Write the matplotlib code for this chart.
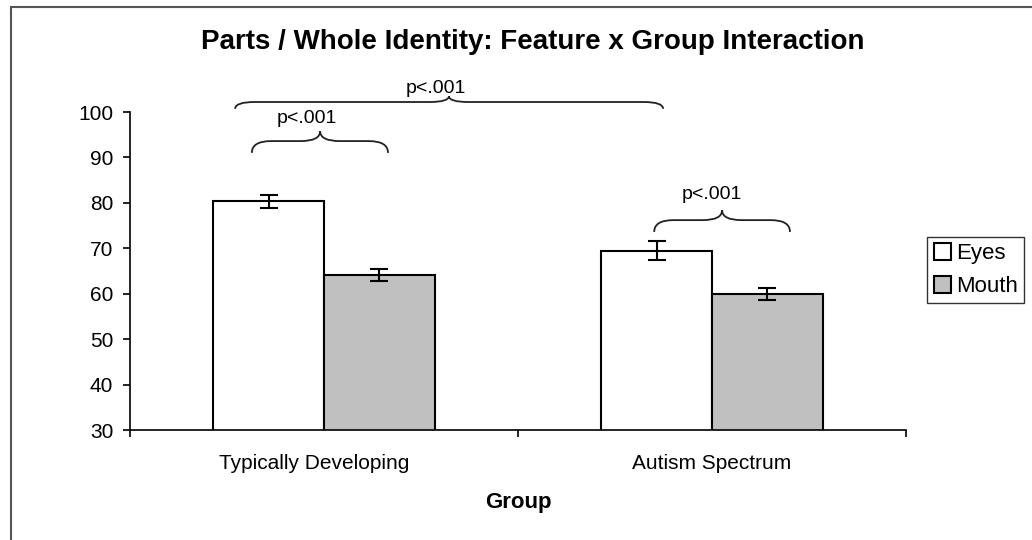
import matplotlib
matplotlib.use("Agg")
import matplotlib.pyplot as plt
import matplotlib.transforms as mtransforms
import numpy as np
from matplotlib.lines import Line2D
from matplotlib.path import Path
from matplotlib.patches import PathPatch

plt.rcParams['font.family'] = ['Liberation Sans', 'DejaVu Sans']

groups = ["Typically Developing", "Autism Spectrum"]
series = ["Eyes", "Mouth"]
eyes = [80.3, 69.5]
mouth = [64.1, 59.9]
eyes_err = [1.4, 2.0]
mouth_err = [1.3, 1.3]
colors = ["#FFFFFF", "#C0C0C0"]
yticks = [30, 40, 50, 60, 70, 80, 90, 100]

fig = plt.figure(figsize=(10.32, 5.4), dpi=100)
ax = fig.add_axes([130/1032, 1-430/540, (906-130)/1032, (430-112)/540])

x = np.arange(len(groups))
w = 0.286
ekw = dict(ecolor="black", elinewidth=1.5, capsize=6.5, capthick=1.5)
ax.bar(x - w/2, eyes, w, color=colors[0], edgecolor="black", linewidth=1.5,
       yerr=eyes_err, error_kw=ekw, label=series[0], zorder=2)
ax.bar(x + w/2, mouth, w, color=colors[1], edgecolor="black", linewidth=1.5,
       yerr=mouth_err, error_kw=ekw, label=series[1], zorder=2)

ax.set_ylim(30, 100)
ax.set_xlim(-0.5, 1.5)
ax.set_yticks(yticks)
ax.tick_params(axis='y', labelsize=15, length=5, width=1.2, pad=7, direction='out')
ax.set_xticks(x)
ax.set_xticklabels(groups)
ax.tick_params(axis='x', which='major', labelsize=15, length=0, pad=17)
ax.set_xticks([-0.5, 0.5, 1.5], minor=True)
ax.tick_params(axis='x', which='minor', length=5, width=1.2, direction='out')
for s in ["top", "right"]:
    ax.spines[s].set_visible(False)
for s in ["left", "bottom"]:
    ax.spines[s].set_linewidth(1.2)
ax.set_xlabel("Group", fontsize=16, fontweight='bold', labelpad=14)

# shift first category label slightly left as in reference
lbl = ax.get_xticklabels()[0]
lbl.set_transform(lbl.get_transform() + mtransforms.ScaledTranslation(-10/100, 0, fig.dpi_scale_trans))

def brace(x0, x1, xt, ybase, yline, ytip):
    r = 0.05
    verts = [
        (x0, ybase), (x0, yline), (x0 + r, yline),
        (xt - r, yline),
        (xt, yline), (xt, ytip),
        (xt, yline), (xt + r, yline),
        (x1 - r, yline),
        (x1, yline), (x1, ybase),
    ]
    codes = [Path.MOVETO, Path.CURVE3, Path.CURVE3,
             Path.LINETO,
             Path.CURVE3, Path.CURVE3,
             Path.CURVE3, Path.CURVE3,
             Path.LINETO,
             Path.CURVE3, Path.CURVE3]
    p = PathPatch(Path(verts, codes), facecolor='none', edgecolor='#222222',
                  linewidth=1.3, clip_on=False, zorder=3)
    ax.add_patch(p)

brace(-0.229, 0.874, 0.322, 100.7, 102.2, 103.5)
ax.text(0.289, 103.4, "p<.001", ha='center', va='bottom', fontsize=14, clip_on=False)
brace(-0.186, 0.165, -0.01, 91.0, 93.6, 95.8)
ax.text(-0.044, 96.6, "p<.001", ha='center', va='bottom', fontsize=14, clip_on=False)
brace(0.851, 1.201, 1.026, 73.6, 76.2, 78.4)
ax.text(1.0, 80.0, "p<.001", ha='center', va='bottom', fontsize=14, clip_on=False)

fig.text(533/1032, 1-42/540, "Parts / Whole Identity: Feature x Group Interaction",
         ha='center', va='center', fontsize=20, fontweight='bold')

leg = ax.legend(loc='center left', bbox_to_anchor=(927/1032, 1-270/540),
                bbox_transform=fig.transFigure, fontsize=16, frameon=True,
                fancybox=False, edgecolor='black', handlelength=0.8, handleheight=0.8,
                handletextpad=0.2, borderpad=0.3, labelspacing=0.5, borderaxespad=0)
leg.get_frame().set_linewidth(1.0)

fig.add_artist(Line2D([11/1032, 11/1032], [0, 1-7/540], color='#555555', linewidth=1.5))
fig.add_artist(Line2D([11/1032, 1], [1-7/540, 1-7/540], color='#555555', linewidth=1.5))

fig.savefig("out.png", dpi=100, facecolor='white')
